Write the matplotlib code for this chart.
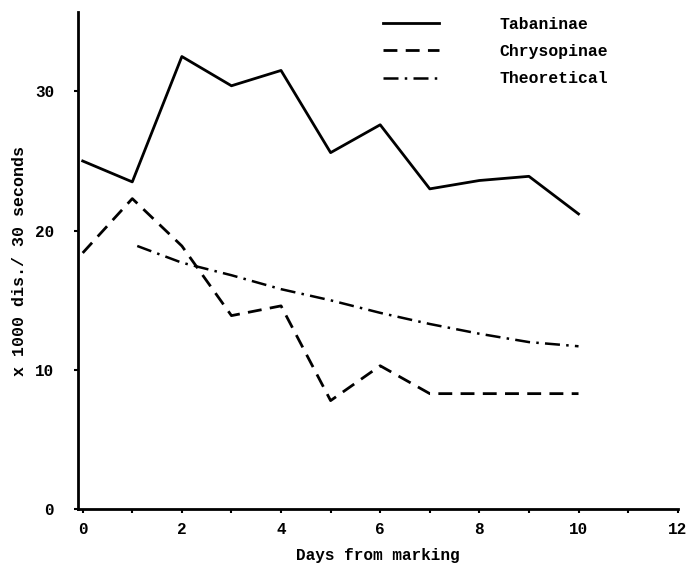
import matplotlib
matplotlib.use("Agg")
import matplotlib.pyplot as plt

# Values
days_tab = [0, 1, 2, 3, 4, 5, 6, 7, 8, 9, 10]
tabaninae = [25.0, 23.5, 32.5, 30.4, 31.5, 25.6, 27.6, 23.0, 23.6, 23.9, 21.2]

days_chry = [0, 1, 2, 3, 4, 5, 6, 7, 8, 9, 10]
chrysopinae = [18.4, 22.3, 18.9, 13.9, 14.6, 7.8, 10.3, 8.3, 8.3, 8.3, 8.3]

days_theo = [1.1, 2, 3, 4, 5, 6, 7, 8, 9, 10]
theoretical = [18.9, 17.7, 16.8, 15.8, 15.0, 14.1, 13.3, 12.6, 12.0, 11.7]

x_ticks = [0, 2, 4, 6, 8, 10, 12]
y_ticks = [0, 10, 20, 30]

font = {'family': 'Liberation Mono', 'weight': 'bold'}

fig = plt.figure(figsize=(6.88, 5.69), dpi=100)
ax = fig.add_axes([0.113, 0.105, 0.872, 0.874])

ax.plot(days_tab, tabaninae, color='black', lw=2.0, label='Tabaninae')
ax.plot(days_chry, chrysopinae, color='black', lw=2.0, dashes=(5, 3),
        label='Chrysopinae')
ax.plot(days_theo, theoretical, color='black', lw=1.8,
        dashes=(6, 2.5, 1, 2.5), label='Theoretical')

ax.set_xlim(-0.1, 12)
ax.set_ylim(0, 35.7)
ax.set_xticks(range(0, 13))
ax.set_xticklabels([str(t) if t in x_ticks else '' for t in range(0, 13)])
ax.set_yticks(y_ticks)

for side in ('top', 'right'):
    ax.spines[side].set_visible(False)
for side in ('left', 'bottom'):
    ax.spines[side].set_linewidth(2.0)

ax.tick_params(axis='x', length=3, width=1.5, pad=6, labelsize=11.5)
ax.tick_params(axis='y', length=3, width=1.5, pad=14, labelsize=11.5)
for lab in ax.get_xticklabels() + ax.get_yticklabels():
    lab.set_fontfamily(font['family'])
    lab.set_fontweight('bold')

ax.set_xlabel('Days from marking', fontdict=font, fontsize=11.5, labelpad=8)
ax.set_ylabel('x 1000 dis./ 30 seconds', fontdict=font, fontsize=12,
              labelpad=6)

leg = ax.legend(loc='upper left', bbox_to_anchor=(0.485, 1.02), frameon=False,
                handlelength=3.4, handletextpad=3.7, labelspacing=0.75,
                prop={'family': 'Liberation Mono', 'weight': 'bold',
                      'size': 11.8})

fig.savefig('out.png', dpi=100, facecolor='white')
